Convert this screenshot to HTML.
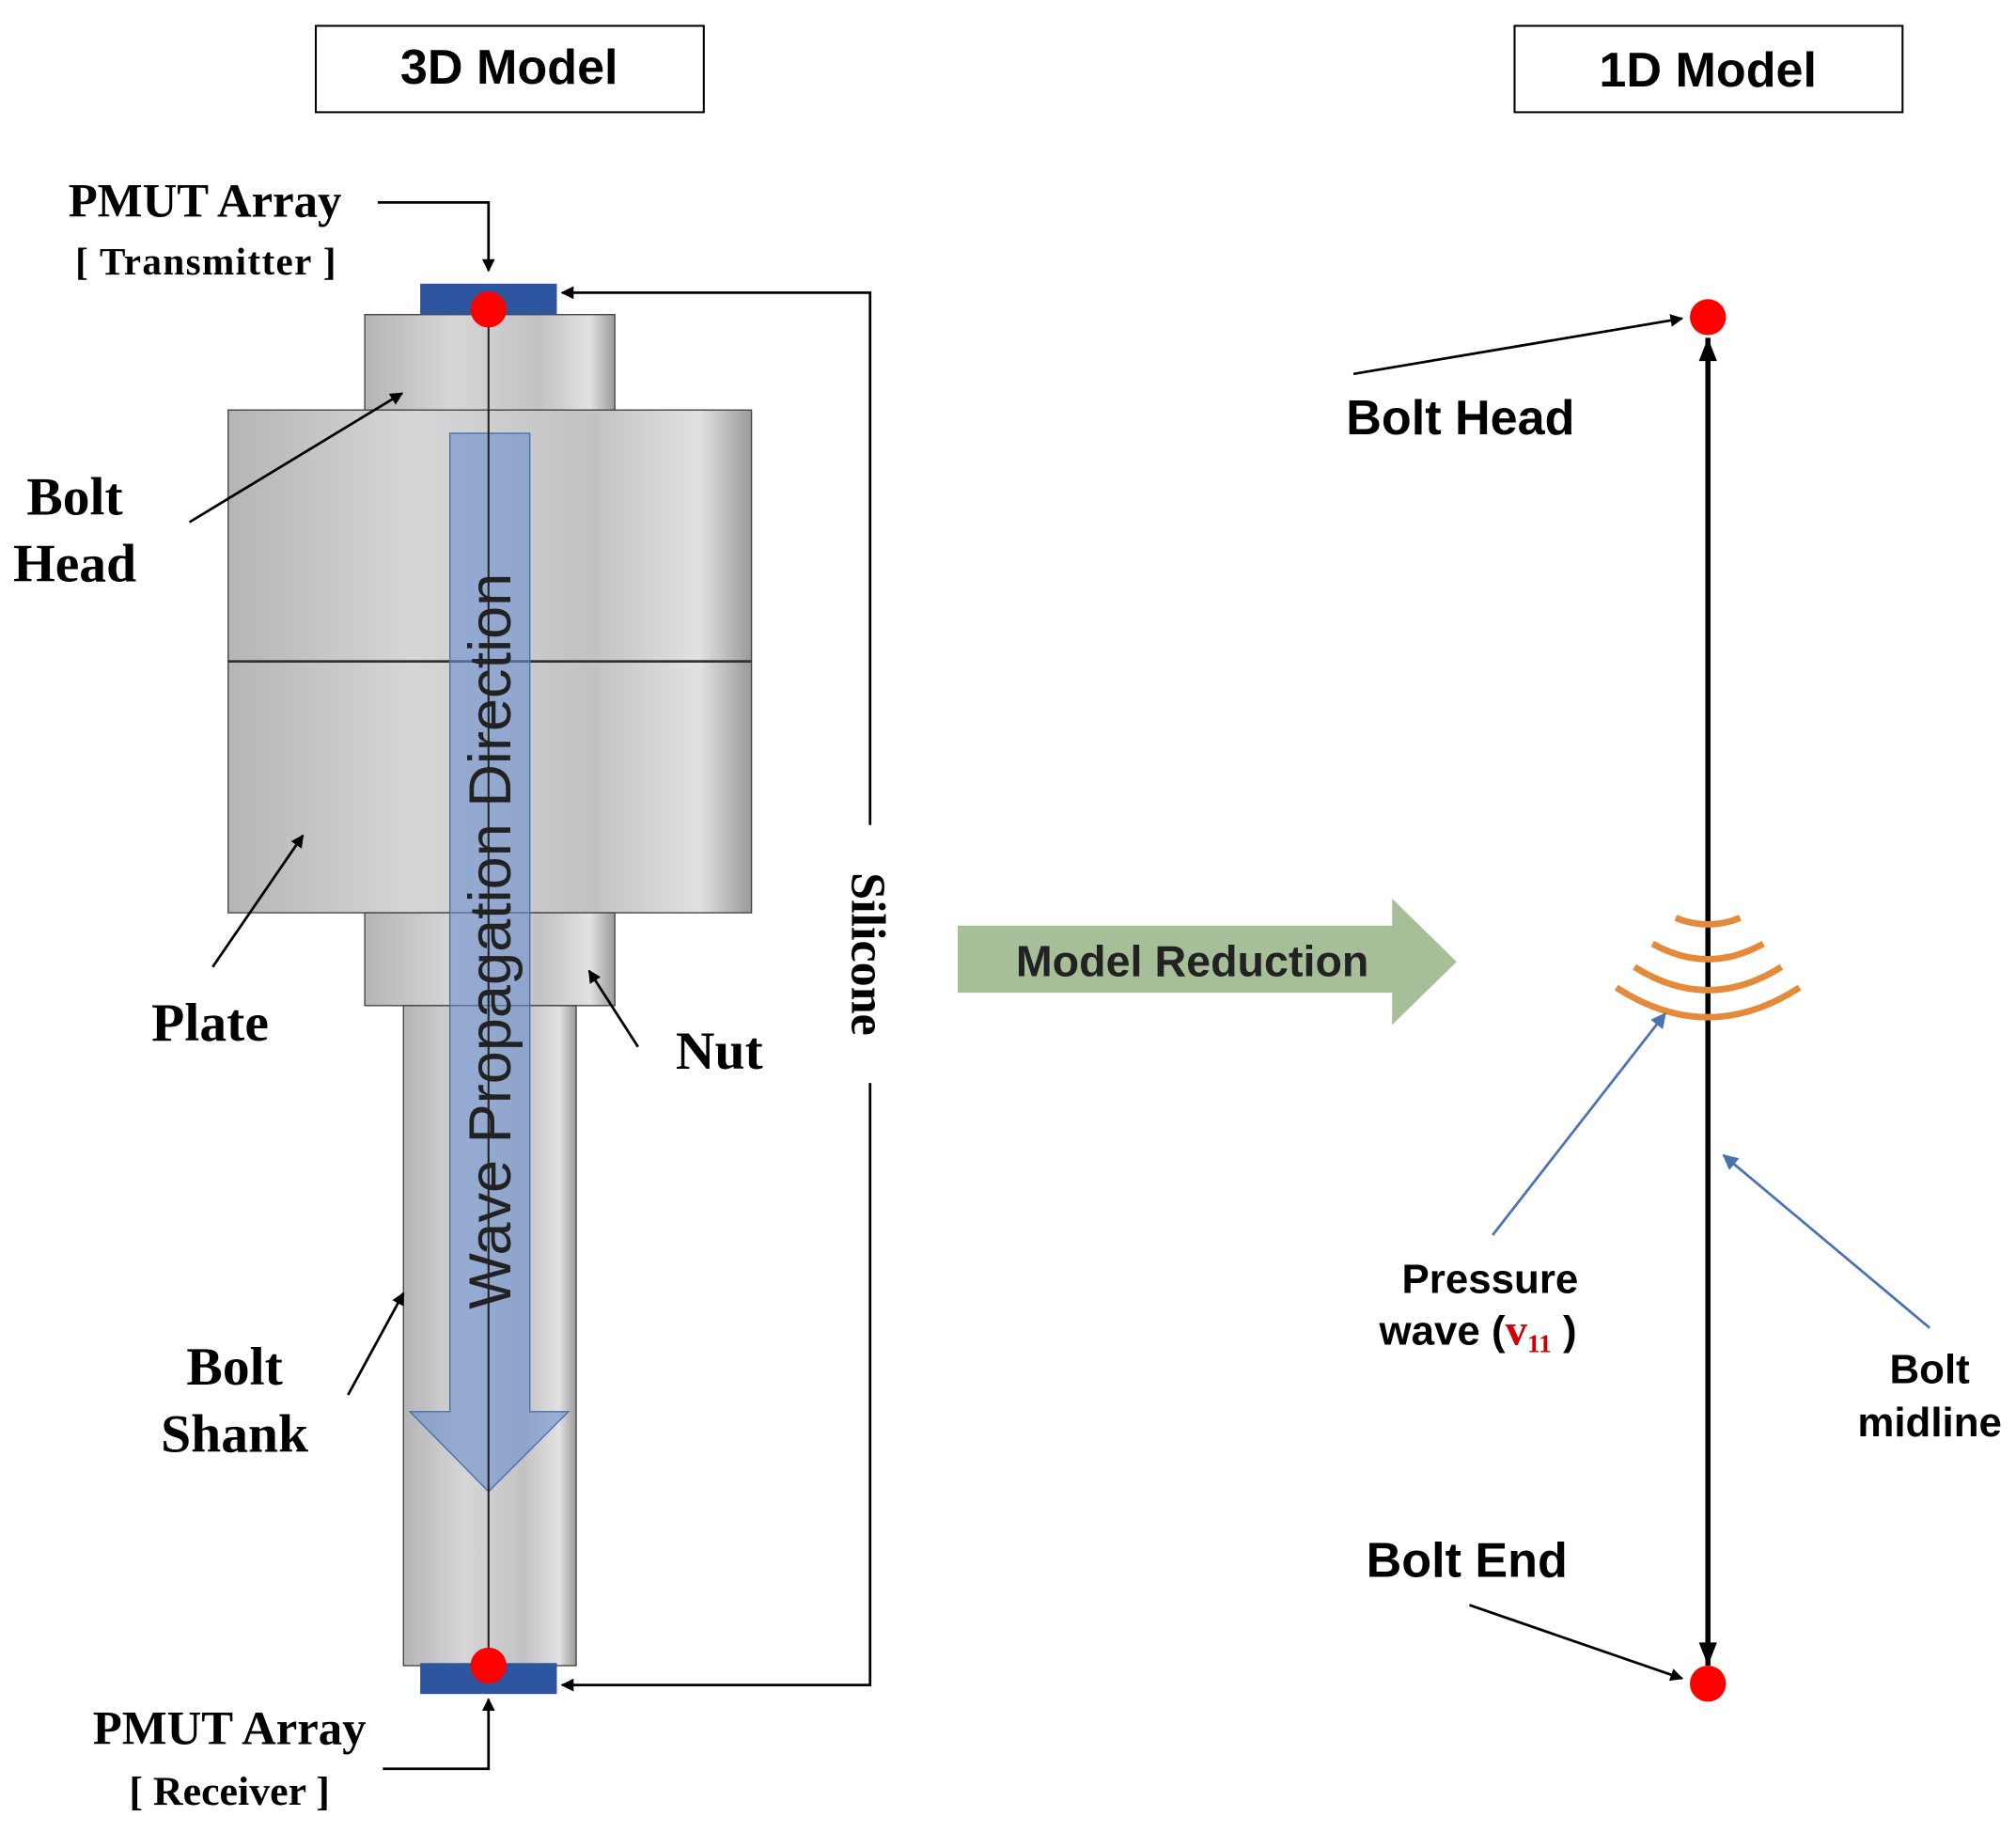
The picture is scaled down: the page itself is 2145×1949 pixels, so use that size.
<!DOCTYPE html>
<html><head><meta charset="utf-8"><style>
html,body{margin:0;padding:0;background:#fff;}
svg{display:block;}
.s{font-family:"Liberation Sans",sans-serif;font-weight:bold;}
.r{font-family:"Liberation Serif",serif;font-weight:bold;}
</style></head><body>
<svg width="2145" height="1949" viewBox="0 0 1564 1421" xmlns="http://www.w3.org/2000/svg">
<defs>
<linearGradient id="g" x1="0" x2="1" y1="0" y2="0">
<stop offset="0" stop-color="#b5b5b5"/><stop offset="0.35" stop-color="#d6d6d6"/><stop offset="0.7" stop-color="#c2c2c2"/><stop offset="0.9" stop-color="#e2e2e2"/><stop offset="1" stop-color="#9a9a9a"/>
</linearGradient>
<marker id="ah" markerWidth="10" markerHeight="10" refX="9" refY="5" orient="auto" markerUnits="userSpaceOnUse"><path d="M0,0 L10,5 L0,10 z" fill="#000"/></marker>
<marker id="ab" markerWidth="12" markerHeight="12" refX="11" refY="6" orient="auto" markerUnits="userSpaceOnUse"><path d="M0,0 L12,6 L0,12 z" fill="#4a72b0"/></marker>
</defs>
<rect x="245" y="20" width="301" height="67" fill="#fff" stroke="#000" stroke-width="1.5"/>
<text x="395" y="65" class="s" font-size="38" text-anchor="middle">3D Model</text>
<rect x="1175" y="20" width="301" height="67" fill="#fff" stroke="#000" stroke-width="1.5"/>
<text x="1325" y="67" class="s" font-size="38" text-anchor="middle">1D Model</text>

<rect x="283" y="244" width="194" height="74" fill="url(#g)" stroke="#444"/>
<rect x="177" y="318" width="406" height="390" fill="url(#g)" stroke="#444"/>
<line x1="177" y1="513" x2="583" y2="513" stroke="#333" stroke-width="2"/>
<rect x="283" y="708" width="194" height="72" fill="url(#g)" stroke="#444"/>
<rect x="313" y="780" width="134" height="512" fill="url(#g)" stroke="#444"/>

<path d="M349,336 L411,336 L411,1095 L441,1095 L379,1157 L318,1095 L349,1095 Z" fill="#6a8fd0" fill-opacity="0.6" stroke="#4a6fa8"/>
<line x1="379" y1="240" x2="379" y2="1292" stroke="#222" stroke-width="1.5"/>
<text transform="translate(396,730) rotate(-90)" font-family="Liberation Sans, sans-serif" font-size="46" text-anchor="middle" fill="#222">Wave Propagation Direction</text>

<rect x="326" y="220" width="106" height="24" fill="#2d55a0"/>
<rect x="326" y="1290" width="106" height="24" fill="#2d55a0"/>
<circle cx="379" cy="240" r="14" fill="#f00"/>
<circle cx="379" cy="1292" r="14" fill="#f00"/>

<polyline points="675,640 675,227 436,227" fill="none" stroke="#000" stroke-width="2" marker-end="url(#ah)"/>
<polyline points="675,840 675,1307 436,1307" fill="none" stroke="#000" stroke-width="2" marker-end="url(#ah)"/>
<text transform="translate(661,740) rotate(90)" class="r" font-size="38" text-anchor="middle">Silicone</text>

<polyline points="293,157 379,157 379,210" fill="none" stroke="#000" stroke-width="2" marker-end="url(#ah)"/>
<text x="159" y="168" class="r" font-size="37" text-anchor="middle">PMUT Array</text>
<text x="160" y="213" class="r" font-size="30" text-anchor="middle" letter-spacing="1">[ Transmitter  ]</text>
<polyline points="297,1372 379,1372 379,1318" fill="none" stroke="#000" stroke-width="2" marker-end="url(#ah)"/>
<text x="178" y="1353" class="r" font-size="37" text-anchor="middle">PMUT Array</text>
<text x="178" y="1400" class="r" font-size="32" text-anchor="middle">[ Receiver ]</text>

<line x1="147" y1="405" x2="312" y2="305" stroke="#000" stroke-width="2" marker-end="url(#ah)"/>
<text x="58" y="399" class="r" font-size="42" text-anchor="middle">Bolt</text>
<text x="58" y="451" class="r" font-size="42" text-anchor="middle">Head</text>
<line x1="165" y1="750" x2="235" y2="648" stroke="#000" stroke-width="2" marker-end="url(#ah)"/>
<text x="163" y="807" class="r" font-size="42" text-anchor="middle">Plate</text>
<line x1="495" y1="812" x2="457" y2="753" stroke="#000" stroke-width="2" marker-end="url(#ah)"/>
<text x="558" y="829" class="r" font-size="42" text-anchor="middle">Nut</text>
<line x1="270" y1="1082" x2="313" y2="1003" stroke="#000" stroke-width="2" marker-end="url(#ah)"/>
<text x="182" y="1074" class="r" font-size="42" text-anchor="middle">Bolt</text>
<text x="182" y="1126" class="r" font-size="42" text-anchor="middle">Shank</text>

<path d="M743,718 L1080,718 L1080,697 L1130,746 L1080,795 L1080,770 L743,770 Z" fill="#a7bf98"/>
<text x="925" y="757" class="s" font-size="34" text-anchor="middle" fill="#222">Model Reduction</text>

<line x1="1325" y1="262" x2="1325" y2="1292" stroke="#000" stroke-width="4"/>
<path d="M1318,280 L1325,262 L1332,280 Z" fill="#000"/>
<path d="M1318,1274 L1325,1292 L1332,1274 Z" fill="#000"/>
<circle cx="1325" cy="246" r="14" fill="#f00"/>
<circle cx="1325" cy="1306" r="14" fill="#f00"/>
<line x1="1050" y1="290" x2="1305" y2="247" stroke="#000" stroke-width="2" marker-end="url(#ah)"/>
<text x="1133" y="337" class="s" font-size="38" text-anchor="middle">Bolt Head</text>
<text x="1138" y="1223" class="s" font-size="38" text-anchor="middle">Bolt End</text>
<line x1="1140" y1="1245" x2="1305" y2="1302" stroke="#000" stroke-width="2" marker-end="url(#ah)"/>

<g fill="none" stroke="#e58a3a" stroke-width="5">
<path d="M1300,712 Q1325,722 1350,712"/>
<path d="M1282,732 Q1325,756 1368,732"/>
<path d="M1268,750 Q1325,786 1382,750"/>
<path d="M1254,766 Q1325,812 1396,766"/>
</g>
<line x1="1158" y1="958" x2="1292" y2="786" stroke="#4a72b0" stroke-width="2" marker-end="url(#ab)"/>
<line x1="1497" y1="1030" x2="1337" y2="896" stroke="#4a72b0" stroke-width="2" marker-end="url(#ab)"/>
<text x="1156" y="1003" class="s" font-size="32" text-anchor="middle">Pressure</text>
<text x="1070" y="1043" class="s" font-size="32">wave (<tspan fill="#c00" font-family="Liberation Serif,serif" font-size="34">v</tspan><tspan fill="#c00" font-family="Liberation Serif,serif" font-size="20" dy="6">11</tspan><tspan dy="-6">  )</tspan></text>
<text x="1497" y="1073" class="s" font-size="32" text-anchor="middle">Bolt</text>
<text x="1497" y="1114" class="s" font-size="32" text-anchor="middle">midline</text>
</svg>
</body></html>
